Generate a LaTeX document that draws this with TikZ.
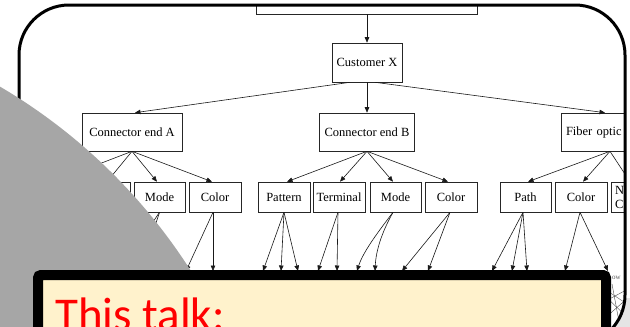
\documentclass[tikz,border=0pt]{standalone}
\usepackage{fontspec}
\setmainfont{Liberation Serif}
\newfontfamily\calib{Carlito}
\usetikzlibrary{arrows.meta,calc}
\definecolor{cream}{HTML}{FFF2CC}
\definecolor{graydisk}{HTML}{A6A6A6}
\begin{document}
\begin{tikzpicture}[x=1pt,y=-1pt,
  box/.style={draw=black!85, line width=0.6pt, fill=white, inner sep=1pt,
    font=\fontsize{12.5}{14}\selectfont, minimum height=30pt},
  big/.style={box, minimum height=38pt},
  edge/.style={draw=black!90, line width=0.6pt, -{Triangle[length=5.5pt,width=4.5pt]}},
  faint/.style={draw=black!70, line width=0.4pt}
]
\useasboundingbox (0,0) rectangle (630,327);
\clip (0,0) rectangle (630,327);
\fill[white] (0,0) rectangle (630,327);
\fill[black!10] (590,298) rectangle (630,327);

\begin{scope}
\clip[rounded corners=50pt] (19,5) rectangle (625,345);
\fill[white] (19,5) rectangle (625,345);

% level 0 and 1
\node[box, minimum width=221pt, minimum height=12pt] (top) at (367,8) {};
\node[big, minimum width=70pt, minimum height=39pt] (cx) at (367,62.5) {Customer X};
\node[big, minimum width=100pt] (cea) at (132,132) {Connector end A};
\node[big, minimum width=95pt] (ceb) at (367,132) {Connector end B};
\node[big, text width=88pt, align=left, inner xsep=5pt] (fo) at (610,132) {Fiber optic};

% level 2
\node[box, minimum width=52pt] (pa) at (49,197) {Pattern};
\node[box, minimum width=52pt] (ta) at (104,197) {Terminal};
\node[box, minimum width=51pt] (ma) at (159.5,197) {Mode};
\node[box, minimum width=52pt] (ca) at (215,197) {Color};
\node[box, minimum width=52pt] (pb) at (284,197) {Pattern};
\node[box, minimum width=52pt] (tb) at (339,197) {Terminal};
\node[box, minimum width=51pt] (mb) at (395.5,197) {Mode};
\node[box, minimum width=52pt] (cb) at (451,197) {Color};
\node[box, minimum width=51pt] (path) at (525.5,197) {Path};
\node[box, minimum width=52pt] (cf) at (581,197) {Color};
\node[box, text width=44pt, align=left, inner xsep=4pt] (nf) at (637,197) {N\\C};

% level 0/1 edges
\draw[edge] (top.south) -- (cx.north);
\draw[edge] ($(cx.south)+(-17,0)$) -- ($(cea.north)+(3,0)$);
\draw[edge] (cx.south) -- (ceb.north);
\draw[edge] ($(cx.south)+(8,0)$) -- ($(fo.north)+(-5,0)$);

% level 1 -> 2
\draw[edge] (cea.south) -- ($(pa.north)+(4,0)$);
\draw[edge] (cea.south) -- ($(ta.north)+(3,0)$);
\draw[edge] (cea.south) -- ($(ma.north)+(-2.5,0)$);
\draw[edge] (cea.south) -- ($(ca.north)+(-3,0)$);
\draw[edge] (ceb.south) -- ($(pb.north)+(3,0)$);
\draw[edge] (ceb.south) -- ($(tb.north)+(1,0)$);
\draw[edge] (ceb.south) -- ($(mb.north)+(-2.5,0)$);
\draw[edge] (ceb.south) -- ($(cb.north)+(-3,0)$);
\draw[edge] (fo.south) -- ($(path.north)+(2.5,0)$);
\draw[edge] (fo.south) -- ($(cf.north)+(2,0)$);
\draw[edge] (fo.south) -- ($(nf.north)+(-7,0)$);

% level 2 -> 3 free ends
\coordinate (ma1) at (120,271);
\coordinate (ma2) at (140,271);
\coordinate (ca1) at (186,271);
\coordinate (ca2) at (213,271);
\coordinate (pb1) at (263,271);
\coordinate (pb2) at (281,271);
\coordinate (pb3) at (298,271);
\coordinate (tb1) at (318,271);
\coordinate (tb2) at (337,271);
\coordinate (mb1) at (357,271);
\coordinate (mb2) at (375,271);
\coordinate (cb1) at (402,271);
\coordinate (cb2) at (428,271);
\coordinate (pt1) at (492,271);
\coordinate (pt2) at (512,271);
\coordinate (pt3) at (527,271);
\coordinate (cf1) at (565,271);
\coordinate (cf2) at (608,271);

\draw[edge] (ma.south) -- (ma1);
\draw[edge] (ma.south) -- (ma2);
\draw[edge] ($(ca.south)+(-2,0)$) -- (ca1);
\draw[edge] ($(ca.south)+(-2,0)$) -- (ca2);
\draw[edge] (pb.south) -- (pb1);
\draw[edge] (pb.south) -- (pb2);
\draw[edge] (pb.south) -- (pb3);
\draw[edge] ($(tb.south)+(-1,0)$) -- (tb1);
\draw[edge] ($(tb.south)+(-1,0)$) -- (tb2);
\draw[edge] ($(mb.south)+(-2.5,0)$) .. controls (378,232) and (363,252) .. (mb1);
\draw[edge] ($(mb.south)+(-2.5,0)$) .. controls (382,232) and (376,250) .. (mb2);
\draw[edge] ($(cb.south)+(-1,0)$) -- (cb1);
\draw[edge] ($(cb.south)+(-1,0)$) -- (cb2);
\draw[edge] ($(path.south)+(-2.5,0)$) -- (pt1);
\draw[edge] ($(path.south)+(-2.5,0)$) -- (pt2);
\draw[edge] ($(path.south)+(-2.5,0)$) -- (pt3);
\draw[edge] ($(cf.south)+(-1,0)$) -- (cf1);
\draw[edge] ($(cf.south)+(-1,0)$) -- (cf2);

% next level, barely visible at the right
\node[font=\fontsize{7}{7}\selectfont, text=black!65, inner sep=0pt, anchor=west] (ow) at (612,277.5) {ow};
\coordinate (t1) at (600,286); \coordinate (t2) at (630,306);
\coordinate (t3) at (600,304); \coordinate (t4) at (630,288);
\coordinate (t5) at (605,296); \coordinate (t6) at (628,318);
\coordinate (t7) at (605,318); \coordinate (t8) at (630,296);
\coordinate (t9) at (612,284); \coordinate (t10) at (620,327);
\draw[faint] (t1) -- (t2);
\draw[faint] (t3) -- (t4);
\draw[faint] (t5) -- (t6);
\draw[faint] (t7) -- (t8);
\draw[faint] (t9) -- (t10);
\end{scope}

% slide frame
\draw[line width=3pt, rounded corners=50pt] (19,5) rectangle (625,345);

% gray disk
\fill[graydisk] (-286,574) circle[radius=565pt];

% callout box
\draw[line width=10pt, fill=cream, rounded corners=3pt] (38,275) rectangle (606,360);
\node[anchor=base west, text=red, font=\calib\fontsize{47}{50}\selectfont, inner sep=0pt] (talk) at (55,330) {This talk:};
\end{tikzpicture}
\end{document}
